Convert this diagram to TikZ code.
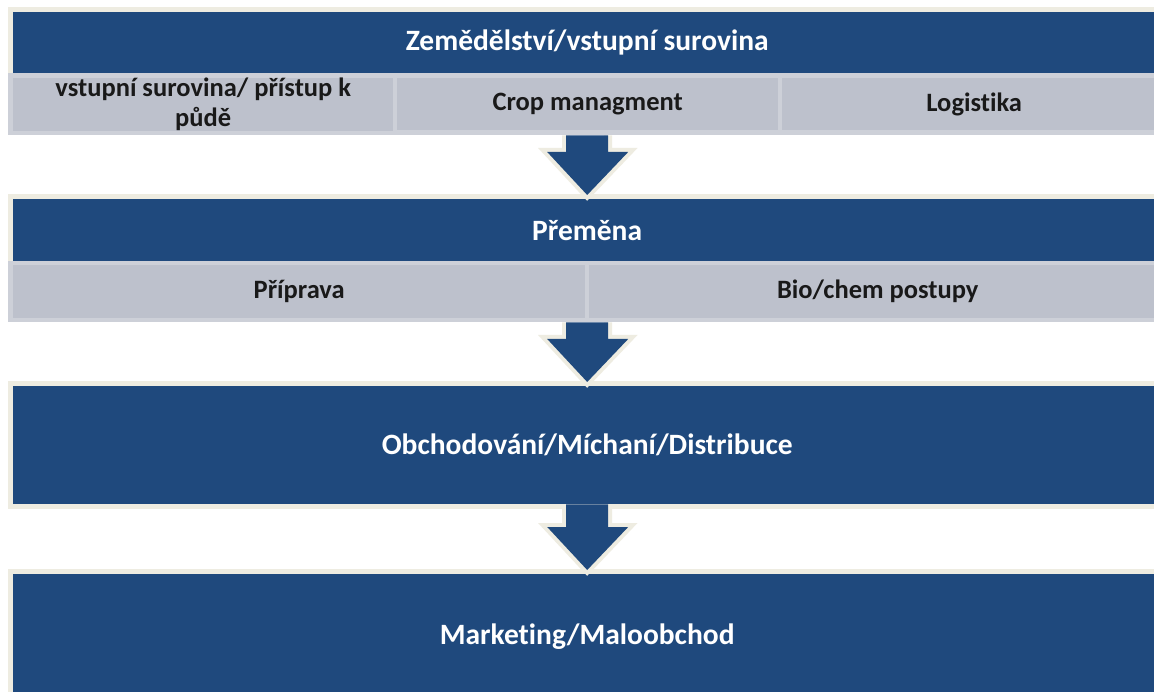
\documentclass[tikz,border=0pt]{standalone}
\usepackage{fontspec}
\setmainfont{Carlito}[Ligatures=NoCommon]
\usetikzlibrary{calc}
\definecolor{dblue}{HTML}{1F497D}
\definecolor{beige}{HTML}{EEECE1}
\definecolor{sgrey}{HTML}{BDC1CC}
\definecolor{rimgrey}{HTML}{CDD0D8}
\newcommand\mkarrow[2]{%
  \path[fill=dblue, preaction={draw=beige, line width=8pt, line join=miter}]
    let \p1=(#1.south), \p2=(#2.north) in
    (\x1-21pt,\y1) -- (\x1-21pt,\y2+47pt) -- (\x1-40pt,\y2+47pt) --
    (\x1,\y2+4pt) -- (\x1+41pt,\y2+47pt) -- (\x1+21pt,\y2+47pt) -- (\x1+21pt,\y1);
}
\begin{document}
\begin{tikzpicture}[x=1pt,y=-1pt,
  bluebox/.style={fill=dblue, preaction={draw=beige, line width=10pt},
    text=white, font=\fontsize{29.5}{32}\bfseries\selectfont,
    inner sep=0pt, anchor=north west, minimum width=1148pt},
  greyrow/.style={fill=rimgrey, inner sep=0pt, anchor=north west, minimum width=1158pt},
  subbox/.style={fill=sgrey, text=black!90, font=\fontsize{26.5}{30}\bfseries\selectfont,
    inner sep=0pt, anchor=north west, align=center}]
\useasboundingbox (0,0) rectangle (1154,692);
\fill[white] (0,0) rectangle (1154,692);
% row 1
\node[bluebox, minimum height=61pt] (t1) at (13,12) {Zemědělství/vstupní surovina};
\node[greyrow, minimum height=62pt] (g1) at (8,73) {};
\node[subbox, minimum width=380pt, minimum height=52pt] (s11) at (13,78) {vstupní surovina/ přístup k\\půdě};
\node[subbox, minimum width=381pt, minimum height=52pt] (s12) at (397,78) {Crop managment};
\node[subbox, minimum width=384pt, minimum height=52pt] (s13) at (782,78) {Logistika};
% row 2
\node[bluebox, minimum height=62pt] (t2) at (13,199) {Přeměna};
\node[greyrow, minimum height=61pt] (g2) at (8,261) {};
\node[subbox, minimum width=572pt, minimum height=53pt] (s21) at (13,265) {Příprava};
\node[subbox, minimum width=577pt, minimum height=53pt] (s22) at (589,265) {Bio/chem postupy};
% row 3
\node[bluebox, minimum height=118pt] (t3) at (13,386) {Obchodování/Míchaní/Distribuce};
% row 4
\node[bluebox, minimum height=125pt] (t4) at (13,574) {Marketing/Maloobchod};
% arrows
\mkarrow{g1}{t2}
\mkarrow{g2}{t3}
\mkarrow{t3}{t4}
\end{tikzpicture}
\end{document}
